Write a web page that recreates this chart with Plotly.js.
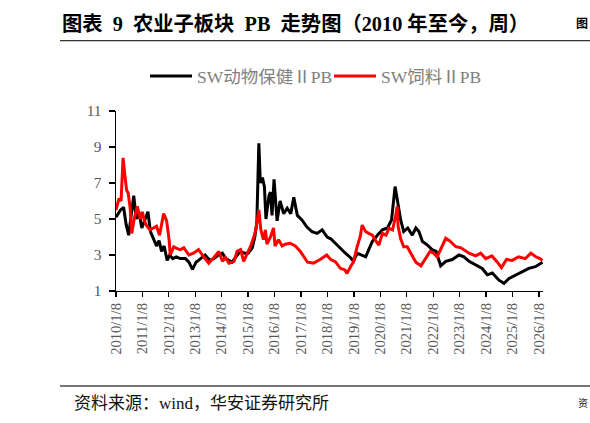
<!DOCTYPE html>
<html>
<head>
<meta charset="utf-8">
<script src="https://cdn.plot.ly/plotly-3.0.1.min.js"></script>
<style>html,body{margin:0;padding:0;background:#fff;}#chart{width:590px;height:423px;}</style>
</head>
<body>
<div id="chart"></div>
<script>
// ---- data ----
var animalDates = ["2010-01-08","2010-01-29","2010-03-12","2010-04-23","2010-05-28","2010-07-02","2010-08-06","2010-09-10","2010-10-15","2010-11-19","2010-12-31","2011-02-18","2011-03-25","2011-04-29","2011-06-03","2011-07-22","2011-08-26","2011-09-30","2011-11-04","2011-12-16","2012-01-20","2012-03-02","2012-04-20","2012-06-15","2012-08-24","2012-10-12","2012-11-30","2013-01-18","2013-03-22","2013-05-24","2013-07-26","2013-09-20","2013-11-22","2014-01-17","2014-03-07","2014-05-30","2014-07-25","2014-09-19","2014-11-21","2015-01-09","2015-03-06","2015-04-10","2015-05-08","2015-06-05","2015-06-26","2015-07-24","2015-08-21","2015-09-11","2015-10-23","2015-11-13","2015-12-04","2016-01-01","2016-02-12","2016-03-25","2016-05-13","2016-07-01","2016-08-19","2016-09-30","2016-11-18","2017-01-20","2017-03-31","2017-06-09","2017-08-18","2017-10-27","2018-01-05","2018-02-23","2018-04-27","2018-07-06","2018-09-14","2018-11-23","2019-01-04","2019-02-22","2019-05-03","2019-06-21","2019-08-02","2019-09-20","2019-11-29","2020-02-07","2020-04-17","2020-06-12","2020-07-31","2020-08-28","2020-10-16","2020-11-27","2021-01-22","2021-03-26","2021-05-14","2021-06-25","2021-08-13","2021-10-22","2021-12-24","2022-02-18","2022-04-22","2022-07-01","2022-09-30","2022-12-30","2023-03-10","2023-05-19","2023-08-18","2023-11-17","2024-01-26","2024-04-05","2024-07-05","2024-09-13","2024-11-22","2025-02-21","2025-05-23","2025-08-22","2025-11-21","2026-02-27"];
var animalPB = [5.1,5.25,5.5,5.65,4.7,4.1,5.3,6.3,5.0,5.4,4.5,5.0,5.4,4.3,4.0,3.5,3.8,3.2,3.5,2.7,3.0,2.8,2.9,2.8,2.8,2.6,2.2,2.6,2.8,3.0,2.7,2.8,3.0,3.1,2.8,2.6,2.9,3.2,3.1,3.1,3.4,4.0,4.8,9.2,7.0,7.3,6.8,5.0,6.3,6.5,5.2,7.2,4.9,6.0,5.3,5.6,5.3,6.2,5.2,4.95,4.55,4.3,4.2,4.4,4.0,3.9,3.65,3.35,3.1,2.85,2.65,3.1,3.0,2.9,3.3,3.75,4.1,4.4,4.5,4.95,6.8,6.05,4.95,4.3,4.5,4.1,4.5,4.3,3.75,3.55,3.3,3.2,2.4,2.65,2.75,3.0,2.9,2.65,2.45,2.25,1.9,2.0,1.6,1.43,1.7,1.9,2.07,2.26,2.35,2.6];

var feedDates = ["2010-01-08","2010-01-29","2010-02-19","2010-03-19","2010-04-16","2010-05-14","2010-06-04","2010-06-25","2010-07-23","2010-08-13","2010-09-17","2010-10-29","2010-12-10","2011-01-07","2011-02-04","2011-03-11","2011-04-22","2011-06-10","2011-07-22","2011-09-02","2011-10-28","2011-12-09","2012-01-13","2012-01-27","2012-03-16","2012-05-04","2012-06-15","2012-08-03","2012-10-12","2012-12-14","2013-02-22","2013-05-03","2013-07-12","2013-09-20","2013-11-29","2014-01-17","2014-02-28","2014-04-18","2014-06-27","2014-08-08","2014-09-26","2014-11-07","2014-12-26","2015-02-13","2015-03-27","2015-04-24","2015-06-05","2015-07-03","2015-08-07","2015-09-04","2015-09-25","2015-11-13","2015-12-25","2016-01-15","2016-03-04","2016-04-22","2016-06-03","2016-08-12","2016-10-21","2016-12-30","2017-02-17","2017-04-07","2017-06-30","2017-09-29","2017-12-29","2018-02-23","2018-04-27","2018-07-06","2018-09-07","2018-10-05","2018-11-23","2019-01-04","2019-02-22","2019-04-05","2019-05-03","2019-06-21","2019-08-02","2019-09-20","2019-11-01","2019-12-20","2020-02-07","2020-03-27","2020-05-08","2020-06-26","2020-08-14","2020-08-28","2020-09-11","2020-10-16","2020-11-27","2021-01-15","2021-03-05","2021-05-14","2021-07-23","2021-09-24","2021-11-26","2022-01-14","2022-03-04","2022-05-13","2022-07-01","2022-08-26","2022-11-18","2023-01-27","2023-05-19","2023-08-18","2023-10-27","2024-01-05","2024-03-29","2024-06-14","2024-08-09","2024-10-18","2025-01-03","2025-04-04","2025-07-04","2025-09-19","2025-11-28","2026-01-23","2026-02-27"];
var feedPB = [5.5,5.8,6.15,6.0,8.4,7.3,6.6,6.45,5.6,4.2,5.0,5.7,5.0,5.4,4.9,4.6,4.4,4.5,4.6,4.1,5.3,4.9,3.8,3.0,3.45,3.35,3.3,3.4,3.0,3.1,3.3,2.9,2.55,2.85,3.2,2.65,2.85,2.55,2.65,3.2,3.3,2.65,3.1,3.5,4.0,4.4,5.5,4.4,3.85,4.4,3.6,4.0,4.5,3.5,3.85,3.5,3.6,3.65,3.5,3.2,2.9,2.6,2.55,2.75,3.0,2.75,2.63,2.26,2.17,1.98,2.35,2.63,3.46,4.0,4.66,4.3,4.2,4.1,3.83,3.55,4.2,4.1,4.48,4.39,5.3,5.7,4.6,3.9,3.46,3.46,3.1,2.6,2.4,2.83,3.2,3.1,2.9,3.5,3.93,3.78,3.46,3.4,3.1,2.95,3.1,2.8,2.95,2.6,2.3,2.75,2.7,2.9,2.8,3.1,2.9,2.8,2.7];

var tickYears = ["2010","2011","2012","2013","2014","2015","2016","2017","2018","2019","2020","2021","2022","2023","2024","2025","2026"];
var tickLabels = tickYears.map(function(y){return y + "/1/8";});
var tickDates = tickYears.map(function(y){return y + "-01-08";});
var yTicks = [1,3,5,7,9,11];

var serif = "Liberation Serif, 'Noto Sans CJK SC', serif";

// plot area in pixels: left 116, right 543, top 111, bottom 291
function px2x(px){return (px-116)/427;}
function py2y(py){return (291-py)/180;}

var traces = [
  {x: animalDates, y: animalPB, type: "scatter", mode: "lines", name: "SW动物保健ⅡPB",
   line: {color: "#000000", width: 3}},
  {x: feedDates, y: feedPB, type: "scatter", mode: "lines", name: "SW饲料ⅡPB",
   line: {color: "#ff0000", width: 3}}
];

var layout = {
  width: 590, height: 423,
  margin: {l: 116, r: 47, t: 111, b: 132, pad: 0},
  paper_bgcolor: "#ffffff", plot_bgcolor: "#ffffff",
  showlegend: true,
  legend: {orientation: "h", x: px2x(145), y: py2y(76), xanchor: "left", yanchor: "middle",
           font: {family: serif, size: 17.5, color: "#808080"}, itemwidth: 42,
           entrywidth: 127, entrywidthmode: "pixels", bgcolor: "rgba(0,0,0,0)"},
  xaxis: {type: "date", range: ["2010-01-08", "2026-03-06"], tickmode: "array",
          tickvals: tickDates, ticktext: tickLabels, tickangle: -90,
          ticks: "outside", ticklen: 5, tickcolor: "#000", tickwidth: 1.3,
          showline: true, linecolor: "#000", linewidth: 1.3, showgrid: false, zeroline: false,
          tickfont: {family: serif, size: 14.5, color: "#595959"}},
  yaxis: {range: [1, 11], tickmode: "array", tickvals: yTicks, ticktext: yTicks.map(String),
          ticks: "outside", ticklen: 6, tickcolor: "#000", tickwidth: 1.3,
          showline: true, linecolor: "#000", linewidth: 1.3, showgrid: false, zeroline: false,
          tickfont: {family: serif, size: 15.5, color: "#595959"}, ticklabelstandoff: 4},
  shapes: [
    {type: "line", xref: "paper", yref: "paper", x0: px2x(60), x1: px2x(595), y0: py2y(40.7), y1: py2y(40.7),
     line: {color: "#333333", width: 1.3}},
    {type: "line", xref: "paper", yref: "paper", x0: px2x(60), x1: px2x(595), y0: py2y(386), y1: py2y(386),
     line: {color: "#777777", width: 1.8}}
  ],
  annotations: [
    {xref: "paper", yref: "paper", x: px2x(60), y: py2y(24), xanchor: "left", yanchor: "middle", showarrow: false,
     text: "<b>图表  9  农业子板块  PB  走势图（2010 年至今，周）</b>", font: {family: serif, size: 20.3, color: "#000"}},
    {xref: "paper", yref: "paper", x: px2x(590), y: py2y(24), xanchor: "right", yanchor: "middle", showarrow: false,
     text: "<b>图</b>", font: {family: serif, size: 12, color: "#000"}},
    {xref: "paper", yref: "paper", x: px2x(72), y: py2y(403), xanchor: "left", yanchor: "middle", showarrow: false,
     text: "资料来源：wind，华安证券研究所", font: {family: serif, size: 17, color: "#111"}},
    {xref: "paper", yref: "paper", x: px2x(590), y: py2y(403), xanchor: "right", yanchor: "middle", showarrow: false,
     text: "资", font: {family: serif, size: 10, color: "#111"}}
  ]
};

Plotly.newPlot("chart", traces, layout, {displayModeBar: false, staticPlot: true});
</script>
</body>
</html>
